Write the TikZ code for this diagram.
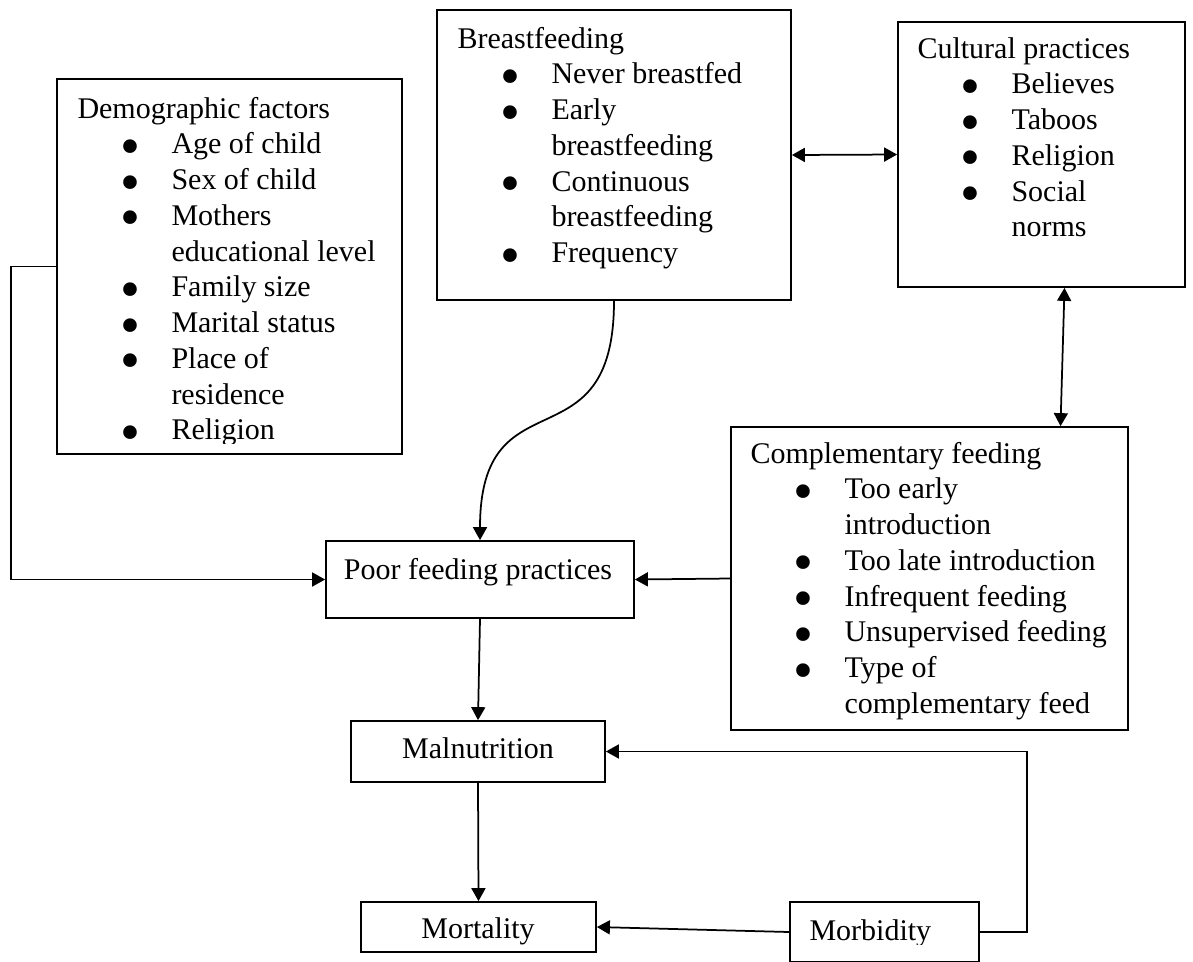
\documentclass[tikz,border=0pt]{standalone}
\usepackage{fontspec}
\setmainfont{Liberation Serif}
\usetikzlibrary{arrows.meta,fit}
\tikzset{
  box/.style={draw,line width=.7pt,inner sep=0pt},
  txt/.style={inner sep=0pt,font=\fontsize{12}{14.3}\selectfont},
  link/.style={line width=.7pt,-{Triangle[length=5.2pt,width=5.6pt]}},
  both/.style={line width=.7pt,{Triangle[length=5.2pt,width=5.6pt]}-{Triangle[length=5.2pt,width=5.6pt]}}
}
\newcommand{\itm}{\hspace*{17.2pt}\makebox[20.4pt][l]{\raisebox{-4.6pt}[0pt][0pt]{\scalebox{1.9}{\textbullet}}}}
\newcommand{\cnt}{\hspace*{37.6pt}}

\begin{document}
\begin{tikzpicture}[x=.4pt,y=-.4pt]
  \useasboundingbox (0,0) rectangle (1193,961);
  % boxes
  \node[box,fit={(57,79) (402,454)}] (demo) {};
  \node[box,fit={(437,10) (791,300)}] (breast) {};
  \node[box,fit={(898,22) (1185,287)}] (cult) {};
  \node[box,fit={(731,427) (1128,730)}] (comp) {};
  \node[box,fit={(326,541) (634,618)}] (poor) {};
  \node[box,fit={(351,721) (605,782)}] (maln) {};
  \node[box,fit={(361,902) (596,952)}] (mort) {};
  \node[box,fit={(790,902) (979,962)}] (morb) {};
  % texts
  \begin{scope}
    \clip (0,0) rectangle (1193,443);
    \node[txt,anchor=base west] (demoT) at (77,118) {\begin{tabular}[t]{@{}l@{}}
      Demographic factors\\
      \itm Age of child\\
      \itm Sex of child\\
      \itm Mothers\\
      \cnt educational level\\
      \itm Family size\\
      \itm Marital status\\
      \itm Place of\\
      \cnt residence\\
      \itm Religion
    \end{tabular}};
  \end{scope}
  \node[txt,anchor=base west] (breastT) at (457,48) {\begin{tabular}[t]{@{}l@{}}
    Breastfeeding\\
    \itm Never breastfed\\
    \itm Early\\
    \cnt breastfeeding\\
    \itm Continuous\\
    \cnt breastfeeding\\
    \itm Frequency
  \end{tabular}};
  \node[txt,anchor=base west] (cultT) at (917,58) {\begin{tabular}[t]{@{}l@{}}
    Cultural practices\\
    \itm Believes\\
    \itm Taboos\\
    \itm Religion\\
    \itm Social\\
    \cnt norms
  \end{tabular}};
  \node[txt,anchor=base west] (compT) at (750,463) {\begin{tabular}[t]{@{}l@{}}
    Complementary feeding\\
    \itm Too early\\
    \cnt introduction\\
    \itm Too late introduction\\
    \itm Infrequent feeding\\
    \itm Unsupervised feeding\\
    \itm Type of\\
    \cnt complementary feed
  \end{tabular}};
  \node[txt,anchor=base] (poorT) at (478,579) {Poor feeding practices};
  \node[txt,anchor=base] (malnT) at (478,758) {Malnutrition};
  \begin{scope}
    \clip (0,0) rectangle (1193,944);
    \node[txt,anchor=base] (mortT) at (478,938) {Mortality};
    \node[txt,anchor=base west] (morbT) at (809,940) {Morbidity};
  \end{scope}
  % connectors
  \draw[link] (demo.west) -- ++(-45,0) |- (poor.west);
  \draw[link] (breast.south) .. controls +(0,170) and +(0,-170) .. (poor.north);
  \draw[both] (breast.east) -- (cult.west);
  \draw[both] ([shift={(23,0)}]cult.south) -- ([shift={(131,0)}]comp.north);
  \draw[link] (comp.west) -- (poor.east);
  \draw[link] (poor.south) -- (maln.north);
  \draw[link] (maln.south) -- (mort.north);
  \draw[link] (morb.west) -- (mort.east);
  \draw[link] (morb.east) -- ++(47,0) |- (maln.east);
\end{tikzpicture}
\end{document}
